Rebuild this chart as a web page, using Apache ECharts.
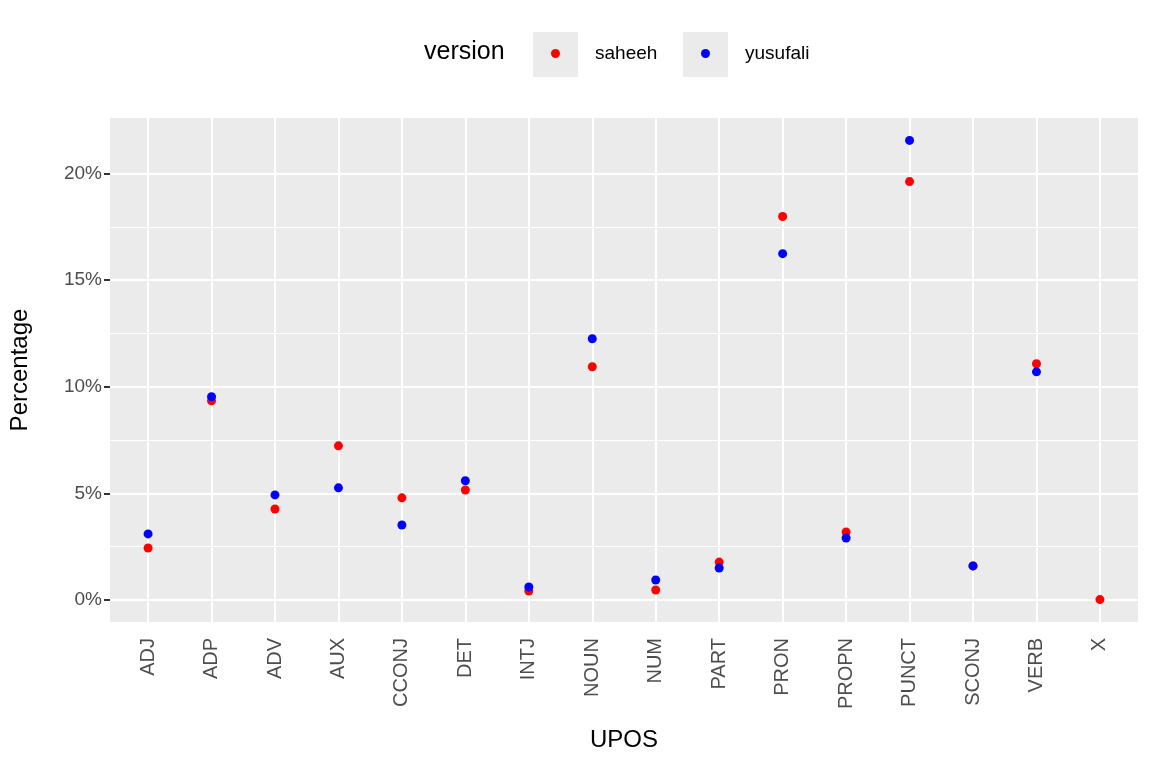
<!DOCTYPE html>
<html><head><meta charset="utf-8">
<script src="https://cdn.jsdelivr.net/npm/echarts@6/dist/echarts.min.js"></script>
<style>body{margin:0}#main{width:1152px;height:768px}</style>
</head><body><div id="main"></div>
<script>
var categories = ['ADJ','ADP','ADV','AUX','CCONJ','DET','INTJ','NOUN','NUM','PART','PRON','PROPN','PUNCT','SCONJ','VERB','X'];
var saheeh   = [2.44, 9.34, 4.27, 7.23, 4.79, 5.16, 0.42, 10.94, 0.47, 1.78, 17.98, 3.19, 19.62, 1.6, 11.08, 0.02];
var yusufali = [3.1, 9.53, 4.93, 5.26, 3.52, 5.59, 0.61, 12.25, 0.94, 1.5, 16.24, 2.91, 21.55, 1.6, 10.7, null];
var majorTicks = [0, 5, 10, 15, 20];
var minorTicks = [2.5, 7.5, 12.5, 17.5];

var chart = echarts.init(document.getElementById('main'));
var xPos = categories.map(function (c, i) { return i + 1; });
function pts(arr) {
    return arr.map(function (v, i) { return v === null ? null : [i + 1, v]; }).filter(function (p) { return p; });
}
var gridLines = [];
majorTicks.forEach(function (v) { gridLines.push({ yAxis: v, lineStyle: { width: 2 } }); });
minorTicks.forEach(function (v) { gridLines.push({ yAxis: v, lineStyle: { width: 1 } }); });
xPos.forEach(function (v) { gridLines.push({ xAxis: v, lineStyle: { width: 2 } }); });

chart.setOption({
    animation: false,
    backgroundColor: '#fff',
    grid: { left: 108, top: 118, width: 1030, height: 504, backgroundColor: '#ebebeb', show: true, borderWidth: 0 },
    graphic: [
        { type: 'text', left: 424, top: 40, style: { text: 'version', font: '25px Arial', fill: '#000' } },
        { type: 'rect', shape: { x: 533, y: 32, width: 45, height: 45 }, style: { fill: '#ebebeb' }, z: -1 },
        { type: 'rect', shape: { x: 683, y: 32, width: 45, height: 45 }, style: { fill: '#ebebeb' }, z: -1 }
    ],
    legend: [
        { data: ['saheeh'], left: 551, top: 44, padding: 0, itemWidth: 9, itemHeight: 9, icon: 'circle',
          textStyle: { fontSize: 19, fontFamily: 'Arial', color: '#000', padding: [0, 0, 0, 30] } },
        { data: ['yusufali'], left: 701, top: 44, padding: 0, itemWidth: 9, itemHeight: 9, icon: 'circle',
          textStyle: { fontSize: 19, fontFamily: 'Arial', color: '#000', padding: [0, 0, 0, 30] } }
    ],
    xAxis: {
        type: 'value', min: 0.4, max: 16.6,
        name: 'UPOS', nameLocation: 'middle', nameGap: 106,
        nameTextStyle: { fontSize: 24, fontFamily: 'Arial', color: '#000' },
        axisLine: { show: false },
        axisTick: { show: true, customValues: xPos, length: 6, lineStyle: { color: '#333', width: 2 } },
        axisLabel: { customValues: xPos, rotate: 90, margin: 16, fontSize: 20, fontFamily: 'Arial', color: '#4d4d4d',
            formatter: function (v) { return categories[Math.round(v) - 1]; } },
        splitLine: { show: false }
    },
    yAxis: {
        type: 'value', min: -1.03, max: 22.6,
        name: 'Percentage', nameLocation: 'middle', nameGap: 78,
        nameTextStyle: { fontSize: 24, fontFamily: 'Arial', color: '#000' },
        axisLine: { show: false },
        axisTick: { show: true, customValues: majorTicks, length: 6, lineStyle: { color: '#333', width: 2 } },
        axisLabel: { customValues: majorTicks, fontSize: 19, fontFamily: 'Arial', color: '#4d4d4d',
            formatter: function (v) { return v + '%'; } },
        splitLine: { show: false }
    },
    series: [
        { name: 'saheeh', type: 'scatter', data: pts(saheeh), symbolSize: 9, itemStyle: { color: '#ff0000', opacity: 1 }, z: 3,
          markLine: { silent: true, symbol: 'none', label: { show: false }, lineStyle: { color: '#fff', type: 'solid' }, data: gridLines, z: 1 } },
        { name: 'yusufali', type: 'scatter', data: pts(yusufali), symbolSize: 9, itemStyle: { color: '#0000ff', opacity: 1 }, z: 4 }
    ]
});
</script></body></html>
